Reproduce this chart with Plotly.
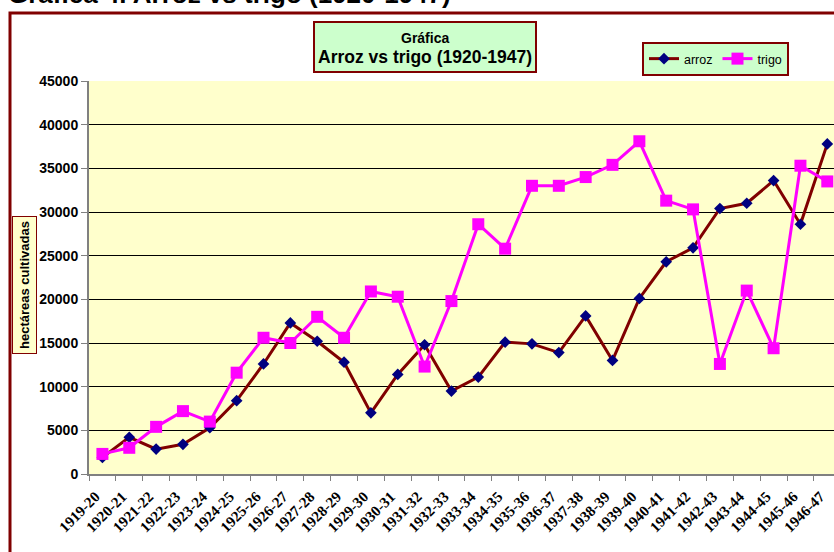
import plotly.graph_objects as go

categories = ["1919-20", "1920-21", "1921-22", "1922-23", "1923-24", "1924-25", "1925-26",
              "1926-27", "1927-28", "1928-29", "1929-30", "1930-31", "1931-32", "1932-33",
              "1933-34", "1934-35", "1935-36", "1936-37", "1937-38", "1938-39", "1939-40",
              "1940-41", "1941-42", "1942-43", "1943-44", "1944-45", "1945-46", "1946-47"]

arroz = [1900, 4200, 2850, 3400, 5300, 8400, 12600, 17300, 15200, 12800, 7000, 11400, 14800, 9500,
         11100, 15100, 14900, 13900, 18100, 13000, 20100, 24300, 25900, 30400, 31000, 33600, 28600, 37800]

trigo = [2300, 3000, 5400, 7200, 6000, 11600, 15600, 15000, 18000, 15600, 20900, 20300, 12300, 19800,
         28600, 25800, 33000, 33000, 34000, 35400, 38100, 31300, 30300, 12600, 21000, 14400, 35300, 33500]

y_ticks = [0, 5000, 10000, 15000, 20000, 25000, 30000, 35000, 40000, 45000]

W, H = 834, 552
L, R, T, B = 89, 0, 81, 78
pw = W - L - R
ph = H - T - B

def px(x):
    return (x - L) / pw

def py(y):
    return (H - B - y) / ph

fig = go.Figure()
fig.add_trace(go.Scatter(
    x=categories, y=arroz, name="arroz", mode="lines+markers",
    line=dict(color="#800000", width=3),
    marker=dict(symbol="diamond", size=9, color="#000080"),
))
fig.add_trace(go.Scatter(
    x=categories, y=trigo, name="trigo", mode="lines+markers",
    line=dict(color="#FF00FF", width=3),
    marker=dict(symbol="square", size=12, color="#FF00FF"),
))

fig.update_layout(
    width=W, height=H,
    margin=dict(l=L, r=R, t=T, b=B, pad=0),
    paper_bgcolor="white",
    plot_bgcolor="#FFFFCC",
    font=dict(family="Arial, Liberation Sans, sans-serif", color="black"),
    showlegend=True,
    legend=dict(
        orientation="h", x=px(642), y=py(42), xanchor="left", yanchor="top",
        bgcolor="#CCFFCC", bordercolor="#800000", borderwidth=2,
        font=dict(size=12.5, family="Arial, Liberation Sans, sans-serif"),
        itemwidth=30, tracegroupgap=0,
    ),
    xaxis=dict(
        type="category", range=[-0.5, 27.25],
        tickson="boundaries", ticks="outside", ticklen=5, tickcolor="#808080", tickwidth=1,
        showline=True, linecolor="#808080", linewidth=2,
        showgrid=False, zeroline=False,
        tickangle=-45, ticklabelshift=-7, ticklabelstandoff=6,
        tickfont=dict(family="Times New Roman, Liberation Serif, serif", size=15, color="black", weight="bold"),
    ),
    yaxis=dict(
        range=[0, 45000], tickvals=y_ticks, tickformat="d",
        ticks="outside", ticklen=6, tickcolor="#808080", tickwidth=1,
        showline=True, linecolor="#808080", linewidth=2,
        showgrid=True, gridcolor="black", gridwidth=1, zeroline=False,
        tickfont=dict(family="Arial, Liberation Sans, sans-serif", size=14, color="black", weight="bold"),
    ),
    shapes=[
        dict(type="rect", xref="paper", yref="paper",
             x0=px(10), x1=px(850), y0=py(600), y1=py(13),
             line=dict(color="#800000", width=3), fillcolor="rgba(0,0,0,0)", layer="above"),
        dict(type="rect", xref="paper", yref="paper",
             x0=px(314), x1=px(536), y0=py(72), y1=py(22),
             line=dict(color="#800000", width=2), fillcolor="#CCFFCC", layer="above"),
    ],
    annotations=[
        dict(text="<b>Gráfica 4. Arroz vs trigo (1920-1947)</b>", xref="paper", yref="paper",
             x=px(6), y=py(11), xanchor="left", yanchor="bottom", showarrow=False,
             font=dict(size=26, family="Arial, Liberation Sans, sans-serif", color="black")),
        dict(text="<b>Gráfica</b>", xref="paper", yref="paper",
             x=px(425), y=py(37.5), xanchor="center", yanchor="middle", showarrow=False,
             font=dict(size=14, family="Arial, Liberation Sans, sans-serif", color="black")),
        dict(text="<b>Arroz vs trigo (1920-1947)</b>", xref="paper", yref="paper",
             x=px(425), y=py(57), xanchor="center", yanchor="middle", showarrow=False,
             font=dict(size=17.5, family="Arial, Liberation Sans, sans-serif", color="black")),
        dict(text="<b>hectáreas cultivadas</b>", xref="paper", yref="paper",
             x=px(24.5), y=py(285.5), xanchor="center", yanchor="middle", showarrow=False,
             textangle=-90, bgcolor="#FFFFCC", bordercolor="#800000", borderwidth=1, borderpad=4,
             font=dict(size=13, family="Arial, Liberation Sans, sans-serif", color="black")),
    ],
)

fig.write_html("out.html", config={"displayModeBar": False},
               post_script="document.body.style.margin='0';document.body.style.overflow='hidden';")
